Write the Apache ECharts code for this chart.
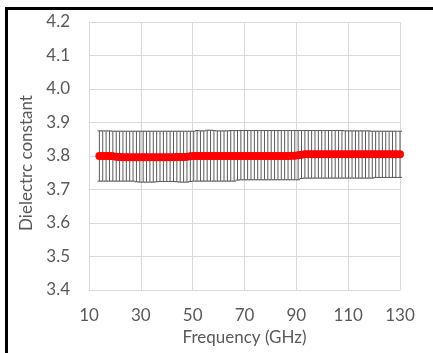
<!DOCTYPE html>
<html>
<head>
<meta charset="utf-8">
<script src="https://cdn.jsdelivr.net/npm/echarts@6/dist/echarts.min.js"></script>
<style>
  html, body { margin: 0; padding: 0; background: #fff; }
  #wrap { position: relative; width: 433px; height: 353px; }
  #chart { width: 433px; height: 353px; }
  #frame {
    position: absolute; left: 5px; top: 7px; width: 430px; height: 350px;
    border-left: 3px solid #000; border-top: 3px solid #000;
    pointer-events: none;
  }
</style>
</head>
<body>
<div id="wrap">
  <div id="chart"></div>
  <div id="frame"></div>
</div>
<script>
// frequency points (GHz)
const freq = [
  14.0, 15.3, 16.6, 17.9, 19.2, 20.5, 21.8, 23.1, 24.4, 25.7,
  27.0, 28.3, 29.6, 30.9, 32.2, 33.5, 34.8, 36.1, 37.4, 38.7,
  40.0, 41.3, 42.6, 43.9, 45.2, 46.5, 47.8, 49.1, 50.4, 51.7,
  53.0, 54.3, 55.6, 56.9, 58.2, 59.5, 60.8, 62.1, 63.4, 64.7,
  66.0, 67.3, 68.6, 69.9, 71.2, 72.5, 73.8, 75.1, 76.4, 77.7,
  79.0, 80.3, 81.6, 82.9, 84.2, 85.5, 86.8, 88.1, 89.4, 90.7,
  92.0, 93.3, 94.6, 95.9, 97.2, 98.5, 99.8, 101.1, 102.4, 103.7,
  105.0, 106.3, 107.6, 108.9, 110.2, 111.5, 112.8, 114.1, 115.4, 116.7,
  118.0, 119.3, 120.6, 121.9, 123.2, 124.5, 125.8, 127.1, 128.4, 130.0
];

// mean dielectric constant
const eps = [
  3.800, 3.800, 3.800, 3.800, 3.799, 3.798, 3.797, 3.796, 3.796, 3.796,
  3.796, 3.796, 3.796, 3.796, 3.796, 3.796, 3.796, 3.796, 3.796, 3.796,
  3.796, 3.796, 3.796, 3.797, 3.797, 3.797, 3.798, 3.799, 3.800, 3.800,
  3.800, 3.800, 3.800, 3.800, 3.800, 3.800, 3.800, 3.800, 3.800, 3.800,
  3.800, 3.800, 3.800, 3.800, 3.800, 3.800, 3.800, 3.800, 3.800, 3.800,
  3.800, 3.800, 3.800, 3.800, 3.800, 3.800, 3.800, 3.801, 3.801, 3.802,
  3.804, 3.805, 3.805, 3.805, 3.805, 3.805, 3.805, 3.805, 3.805, 3.805,
  3.805, 3.805, 3.805, 3.805, 3.805, 3.805, 3.805, 3.805, 3.805, 3.805,
  3.805, 3.805, 3.805, 3.805, 3.805, 3.805, 3.805, 3.805, 3.805, 3.805
];

// upper / lower ends of the error bars
const upper = [
  3.875, 3.875, 3.875, 3.875, 3.874, 3.874, 3.874, 3.874, 3.874, 3.874,
  3.874, 3.874, 3.874, 3.874, 3.874, 3.874, 3.874, 3.874, 3.874, 3.874,
  3.874, 3.874, 3.874, 3.874, 3.874, 3.874, 3.874, 3.874, 3.874, 3.876,
  3.875, 3.875, 3.877, 3.877, 3.876, 3.875, 3.875, 3.875, 3.875, 3.876,
  3.876, 3.876, 3.876, 3.876, 3.876, 3.876, 3.876, 3.876, 3.876, 3.876,
  3.876, 3.876, 3.876, 3.876, 3.876, 3.876, 3.876, 3.876, 3.876, 3.876,
  3.876, 3.876, 3.876, 3.876, 3.876, 3.876, 3.876, 3.876, 3.876, 3.876,
  3.876, 3.876, 3.876, 3.875, 3.875, 3.875, 3.875, 3.875, 3.875, 3.875,
  3.875, 3.874, 3.874, 3.874, 3.874, 3.874, 3.874, 3.874, 3.874, 3.874
];
const lower = [
  3.725, 3.725, 3.725, 3.725, 3.725, 3.725, 3.725, 3.725, 3.725, 3.725,
  3.725, 3.723, 3.722, 3.722, 3.722, 3.722, 3.722, 3.723, 3.724, 3.724,
  3.724, 3.724, 3.724, 3.723, 3.722, 3.722, 3.722, 3.724, 3.725, 3.725,
  3.725, 3.725, 3.725, 3.725, 3.725, 3.725, 3.725, 3.725, 3.725, 3.725,
  3.725, 3.728, 3.729, 3.729, 3.729, 3.729, 3.729, 3.729, 3.729, 3.729,
  3.729, 3.729, 3.729, 3.729, 3.729, 3.729, 3.729, 3.729, 3.729, 3.729,
  3.733, 3.734, 3.734, 3.734, 3.734, 3.734, 3.734, 3.734, 3.734, 3.734,
  3.734, 3.734, 3.734, 3.734, 3.734, 3.734, 3.734, 3.734, 3.734, 3.734,
  3.734, 3.734, 3.736, 3.736, 3.736, 3.736, 3.736, 3.736, 3.736, 3.736
];

const yTicks = [3.4, 3.5, 3.6, 3.7, 3.8, 3.9, 4.0, 4.1, 4.2];
const xTicks = [10, 30, 50, 70, 90, 110, 130];

const font = 'Lato, "Open Sans", sans-serif';
const textColor = '#595959';
const gridColor = '#d9d9d9';

const chart = echarts.init(document.getElementById('chart'), null, { renderer: 'canvas' });

const errData = freq.map((f, i) => [f, lower[i], upper[i]]);
const lineData = freq.map((f, i) => [f, eps[i]]);

const option = {
  animation: false,
  backgroundColor: '#fff',
  grid: { left: 89, right: 33, top: 22, bottom: 63 },
  xAxis: {
    type: 'value',
    min: xTicks[0],
    max: xTicks[xTicks.length - 1],
    interval: 20,
    name: 'Frequency (GHz)',
    nameLocation: 'middle',
    nameGap: 39,
    nameTextStyle: { color: textColor, fontFamily: font, fontSize: 17 },
    axisLine: { show: true, lineStyle: { color: gridColor, width: 1 } },
    axisTick: { show: false },
    axisLabel: { color: textColor, fontFamily: font, fontSize: 17, margin: 17 },
    splitLine: { show: true, lineStyle: { color: gridColor, width: 1 } }
  },
  yAxis: {
    type: 'value',
    min: yTicks[0],
    max: yTicks[yTicks.length - 1],
    interval: 0.1,
    name: 'Dielectrc constant',
    nameLocation: 'middle',
    nameGap: 51,
    nameTextStyle: { color: textColor, fontFamily: font, fontSize: 17, padding: [0, 14, 0, 0] },
    axisLine: { show: true, lineStyle: { color: gridColor, width: 1 } },
    axisTick: { show: false },
    axisLabel: {
      color: textColor, fontFamily: font, fontSize: 17, margin: 19,
      formatter: v => v.toFixed(1)
    },
    splitLine: { show: true, lineStyle: { color: gridColor, width: 1 } }
  },
  series: [
    {
      type: 'custom',
      name: 'error',
      data: errData,
      z: 2,
      renderItem: (params, api) => {
        const x = api.value(0);
        const lo = api.coord([x, api.value(1)]);
        const hi = api.coord([x, api.value(2)]);
        const cap = 2;
        const style = { stroke: '#595959', lineWidth: 1 };
        return {
          type: 'group',
          children: [
            { type: 'line', shape: { x1: lo[0], y1: lo[1], x2: hi[0], y2: hi[1] }, style },
            { type: 'line', shape: { x1: hi[0] - cap, y1: hi[1], x2: hi[0] + cap, y2: hi[1] }, style },
            { type: 'line', shape: { x1: lo[0] - cap, y1: lo[1], x2: lo[0] + cap, y2: lo[1] }, style }
          ]
        };
      }
    },
    {
      type: 'line',
      name: 'epsilon',
      data: lineData,
      z: 3,
      symbol: 'circle',
      symbolSize: 8,
      itemStyle: { color: '#ff0000' },
      lineStyle: { color: '#ff0000', width: 7 }
    }
  ]
};

chart.setOption(option);
</script>
</body>
</html>
